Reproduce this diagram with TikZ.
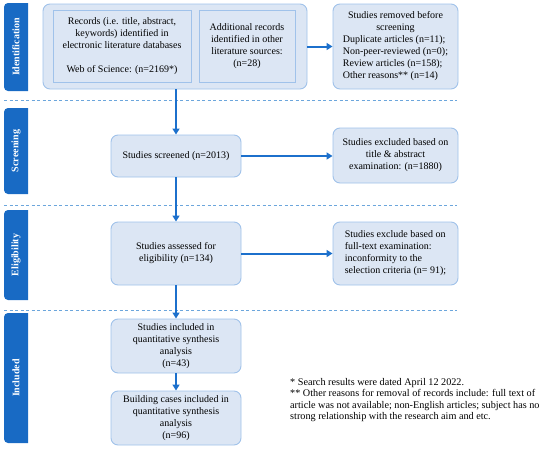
\documentclass[tikz,border=0pt]{standalone}
\usepackage{fontspec}
\setmainfont{Liberation Serif}
\usepackage{xcolor}
\usetikzlibrary{positioning, arrows.meta}

\definecolor{tabblue}{RGB}{24,106,196}
\definecolor{flowblue}{RGB}{28,112,204}
\definecolor{boxfill}{RGB}{220,230,244}
\definecolor{boxline}{RGB}{160,194,234}
\definecolor{sepline}{RGB}{108,166,220}

\begin{document}
\begin{tikzpicture}[x=1pt, y=-1pt, >={Triangle[length=6pt, width=7pt]},
		box/.style={draw=boxline, line width=0.9pt, fill=boxfill, rounded corners=7pt, align=center, inner sep=0pt, font=\fontsize{10}{12}\selectfont},
		innerbox/.style={draw=boxline, line width=0.9pt, fill=boxfill, align=center, inner sep=0pt, font=\fontsize{10}{12}\selectfont},
		tablabel/.style={rotate=90, text=white, font=\fontsize{10}{11}\selectfont\bfseries},
		flow/.style={->, draw=flowblue, line width=2pt},
		sep/.style={draw=sepline, line width=0.9pt, dash pattern=on 3pt off 2.5pt}]
		\useasboundingbox (0,0) rectangle (550,450);

		% phase tabs
		\fill[tabblue] (28,3) [rounded corners=4pt] -- (4,3) -- (4,91) [sharp corners] -- (28,91) -- cycle;
		\node[tablabel] (tabid) at (16,47) {Identification};
		\fill[tabblue] (28,108) [rounded corners=4pt] -- (4,108) -- (4,194) [sharp corners] -- (28,194) -- cycle;
		\node[tablabel] (tabscr) at (16,151) {Screening};
		\fill[tabblue] (28,210) [rounded corners=4pt] -- (4,210) -- (4,300) [sharp corners] -- (28,300) -- cycle;
		\node[tablabel] (tabeli) at (16,255) {Eligibility};
		\fill[tabblue] (28,313) [rounded corners=4pt] -- (4,313) -- (4,443) [sharp corners] -- (28,443) -- cycle;
		\node[tablabel] (tabinc) at (16,378) {Included};

		% separators
		\draw[sep] (4,100) -- (457,100);
		\draw[sep] (4,205) -- (457,205);
		\draw[sep] (4,310) -- (457,310);

		% identification
		\node[box, minimum width=264pt, minimum height=85pt] (ident) at (175,46.5) {};
		\node[innerbox, minimum width=138pt, minimum height=72pt] (records) at (122,46) {Records (i.e. title, abstract,\\ keywords) identified in\\ electronic literature databases\\[12pt] Web of Science: (n=2169*)};
		\node[innerbox, minimum width=96pt, minimum height=72pt] (additional) at (247,46) {Additional records\\ identified in other\\ literature sources:\\ (n=28)};
		\node[box, minimum width=125pt, minimum height=85pt] (removed) at (395.5,46.5) {\begin{tabular}{@{}l@{}}\multicolumn{1}{@{}c@{}}{Studies removed before}\\ \multicolumn{1}{@{}c@{}}{screening}\\ Duplicate articles (n=11);\\ Non-peer-reviewed (n=0);\\ Review articles (n=158);\\ Other reasons** (n=14)\end{tabular}};

		% screening
		\node[box, minimum width=130pt, minimum height=42pt] (screened) at (176,156) {Studies screened (n=2013)};
		\node[box, minimum width=125pt, minimum height=55pt] (excluded1) at (395.5,155.5) {Studies excluded based on\\ title \& abstract\\ examination: (n=1880)};

		% eligibility
		\node[box, minimum width=130pt, minimum height=63pt] (assessed) at (176,253.5) {Studies assessed for\\ eligibility (n=134)};
		\node[box, minimum width=125pt, minimum height=63pt, align=left] (excluded2) at (395.5,253.5) {Studies exclude based on\\ full-text examination:\\ inconformity to the\\ selection criteria (n= 91);};

		% included
		\node[box, minimum width=130pt, minimum height=54pt] (included) at (176,346) {Studies included in\\ quantitative synthesis\\ analysis\\ (n=43)};
		\node[box, minimum width=130pt, minimum height=54pt] (cases) at (176,418) {Building cases included in\\ quantitative synthesis\\ analysis\\ (n=96)};

		% notes
		\node[anchor=north west, align=left, inner sep=0pt, font=\fontsize{10.2}{11.5}\selectfont] (notes) at (290,378) {* Search results were dated April 12 2022.\\ ** Other reasons for removal of records include: full text of\\ article was not available; non-English articles; subject has no\\ strong relationship with the research aim and etc.};

		% flow
		\draw[flow] (ident.east) -- (removed.west);
		\draw[flow] (ident.south -| screened.north) -- (screened.north);
		\draw[flow] (screened.east) -- (excluded1.west |- screened.east);
		\draw[flow] (screened.south) -- (assessed.north);
		\draw[flow] (assessed.east) -- (excluded2.west);
		\draw[flow] (assessed.south) -- (included.north);
		\draw[flow] (included.south) -- (cases.north);
	\end{tikzpicture}
\end{document}
